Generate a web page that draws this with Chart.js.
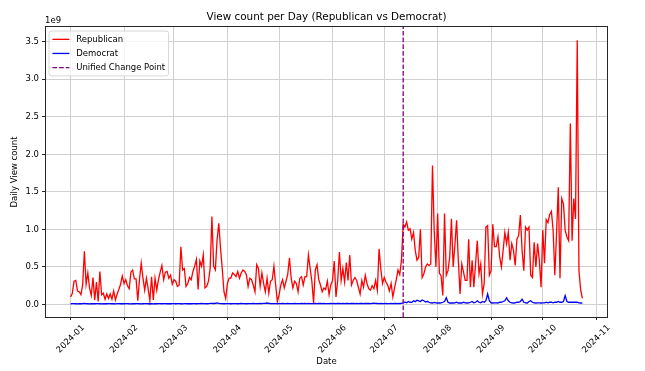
<!DOCTYPE html>
<html>
<head>
<meta charset="utf-8">
<script src="https://cdn.jsdelivr.net/npm/chart.js@4.4.0/dist/chart.umd.min.js"></script>
<style>
  html, body { margin: 0; padding: 0; background: #fff; }
  canvas { display: block; }
</style>
</head>
<body>
<canvas id="graficoVistas" width="645" height="371"></canvas>
<script>
// Vistas diarias (en 1e9), un valor por dia desde 2024-01-01 hasta 2024-10-24
const republican = [
  // ene
  0.10, 0.15, 0.31, 0.32, 0.18, 0.17, 0.13, 0.26, 0.71, 0.27, 0.42, 0.22, 0.12, 0.36, 0.06, 0.30, 0.04, 0.44, 0.13, 0.15, 0.07, 0.14, 0.08, 0.14, 0.07, 0.18, 0.06, 0.14, 0.20, 0.27, 0.38,
  // feb
  0.28, 0.33, 0.25, 0.21, 0.43, 0.46, 0.34, 0.34, 0.05, 0.34, 0.55, 0.35, 0.19, 0.35, 0.21, 0.05, 0.37, 0.06, 0.35, 0.19, 0.33, 0.43, 0.52, 0.33, 0.43, 0.44, 0.35, 0.39, 0.27,
  // mar
  0.33, 0.31, 0.24, 0.26, 0.77, 0.46, 0.48, 0.24, 0.28, 0.36, 0.33, 0.44, 0.51, 0.60, 0.20, 0.58, 0.51, 0.66, 0.22, 0.24, 0.31, 0.48, 1.17, 0.51, 0.46, 0.86, 1.08, 0.75, 0.48, 0.17, 0.08,
  // abr
  0.28, 0.35, 0.35, 0.42, 0.40, 0.37, 0.44, 0.35, 0.42, 0.46, 0.44, 0.40, 0.24, 0.35, 0.33, 0.26, 0.17, 0.53, 0.48, 0.24, 0.42, 0.28, 0.17, 0.35, 0.15, 0.31, 0.33, 0.51, 0.26, 0.04,
  // may
  0.13, 0.26, 0.33, 0.22, 0.31, 0.40, 0.62, 0.35, 0.22, 0.31, 0.28, 0.17, 0.35, 0.37, 0.26, 0.37, 0.37, 0.66, 0.48, 0.31, 0.02, 0.46, 0.53, 0.33, 0.26, 0.17, 0.22, 0.20, 0.31, 0.13, 0.26,
  // jun
  0.32, 0.58, 0.10, 0.32, 0.70, 0.32, 0.48, 0.30, 0.56, 0.32, 0.66, 0.26, 0.32, 0.36, 0.32, 0.23, 0.14, 0.32, 0.23, 0.39, 0.28, 0.21, 0.19, 0.25, 0.21, 0.32, 0.19, 0.74, 0.48, 0.28,
  // jul
  0.36, 0.30, 0.26, 0.18, 0.28, 0.10, 0.22, 0.33, 0.46, 0.40, 0.59, 1.07, 1.03, 1.10, 0.99, 1.01, 0.87, 0.96, 0.72, 0.59, 0.63, 1.00, 0.36, 0.41, 0.50, 0.54, 0.52, 0.54, 1.85, 0.99, 0.50,
  // ago
  1.21, 0.42, 0.38, 0.12, 1.21, 0.39, 0.45, 0.63, 1.14, 0.50, 0.79, 1.12, 0.59, 0.14, 0.54, 0.43, 0.32, 0.32, 0.87, 0.23, 0.59, 0.23, 0.54, 0.85, 0.41, 0.54, 0.14, 0.28, 1.03, 1.05, 0.39,
  // sep
  0.45, 1.07, 0.77, 0.77, 0.90, 0.63, 0.50, 0.72, 0.96, 0.81, 0.96, 0.59, 0.81, 0.72, 0.52, 0.87, 0.92, 1.19, 0.72, 0.45, 1.03, 0.99, 1.03, 0.39, 0.36, 0.83, 0.50, 0.81, 0.59, 0.23,
  // oct
  0.99, 0.55, 1.13, 1.09, 1.20, 1.24, 0.99, 0.39, 0.95, 1.56, 0.35, 1.41, 1.34, 0.99, 0.90, 0.85, 2.41, 0.85, 1.41, 1.14, 3.52, 0.45, 0.19, 0.08
];

const democrat = [
  // ene
  0.010, 0.012, 0.011, 0.010, 0.009, 0.011, 0.010, 0.012, 0.013, 0.011, 0.010, 0.009, 0.010, 0.011, 0.010, 0.012, 0.011, 0.010, 0.009, 0.010, 0.011, 0.010, 0.012, 0.011, 0.010, 0.010, 0.009, 0.011, 0.012, 0.010, 0.011,
  // feb
  0.010, 0.011, 0.012, 0.010, 0.009, 0.011, 0.010, 0.012, 0.011, 0.010, 0.009, 0.010, 0.011, 0.012, 0.010, 0.011, 0.010, 0.009, 0.011, 0.010, 0.012, 0.011, 0.010, 0.011, 0.012, 0.010, 0.011, 0.010, 0.012,
  // mar
  0.011, 0.010, 0.012, 0.011, 0.010, 0.009, 0.011, 0.012, 0.010, 0.011, 0.010, 0.012, 0.011, 0.010, 0.012, 0.011, 0.013, 0.012, 0.011, 0.010, 0.012, 0.014, 0.016, 0.013, 0.015, 0.020, 0.014, 0.012, 0.011, 0.010, 0.011,
  // abr
  0.011, 0.012, 0.010, 0.011, 0.012, 0.011, 0.010, 0.012, 0.013, 0.011, 0.012, 0.010, 0.011, 0.012, 0.011, 0.013, 0.012, 0.011, 0.012, 0.013, 0.012, 0.014, 0.016, 0.020, 0.015, 0.013, 0.012, 0.011, 0.012, 0.011,
  // may
  0.012, 0.011, 0.013, 0.012, 0.011, 0.013, 0.012, 0.011, 0.012, 0.013, 0.012, 0.011, 0.012, 0.013, 0.012, 0.014, 0.012, 0.013, 0.012, 0.011, 0.012, 0.013, 0.012, 0.014, 0.013, 0.012, 0.013, 0.012, 0.011, 0.012, 0.013,
  // jun
  0.012, 0.013, 0.012, 0.014, 0.013, 0.012, 0.013, 0.012, 0.014, 0.013, 0.012, 0.013, 0.014, 0.012, 0.013, 0.012, 0.014, 0.013, 0.012, 0.013, 0.014, 0.013, 0.012, 0.015, 0.018, 0.014, 0.013, 0.012, 0.013, 0.012,
  // jul
  0.012, 0.013, 0.012, 0.011, 0.013, 0.012, 0.014, 0.013, 0.012, 0.013, 0.014, 0.020, 0.032, 0.022, 0.040, 0.030, 0.028, 0.050, 0.038, 0.058, 0.048, 0.040, 0.060, 0.050, 0.032, 0.042, 0.030, 0.022, 0.020, 0.028, 0.022,
  // ago
  0.020, 0.020, 0.022, 0.030, 0.040, 0.090, 0.030, 0.020, 0.022, 0.020, 0.021, 0.030, 0.020, 0.022, 0.020, 0.030, 0.022, 0.020, 0.021, 0.030, 0.040, 0.022, 0.030, 0.050, 0.030, 0.022, 0.040, 0.030, 0.050, 0.140, 0.050,
  // sep
  0.022, 0.020, 0.021, 0.022, 0.020, 0.030, 0.030, 0.040, 0.050, 0.090, 0.050, 0.030, 0.022, 0.020, 0.021, 0.030, 0.030, 0.040, 0.070, 0.030, 0.022, 0.020, 0.040, 0.050, 0.030, 0.022, 0.020, 0.021, 0.022, 0.020,
  // oct
  0.022, 0.021, 0.030, 0.022, 0.030, 0.030, 0.022, 0.030, 0.030, 0.040, 0.030, 0.030, 0.040, 0.120, 0.040, 0.030, 0.030, 0.030, 0.030, 0.030, 0.030, 0.022, 0.020, 0.018
];

const monthLabels = ["2024-01", "2024-02", "2024-03", "2024-04", "2024-05", "2024-06", "2024-07", "2024-08", "2024-09", "2024-10", "2024-11"];
const yTicks = [0, 0.5, 1, 1.5, 2, 2.5, 3, 3.5];
const changePointDate = "2024-07-12";

const titulo = "View count per Day (Republican vs Democrat)";
const fuente = "'DejaVu Sans', sans-serif";
const tam = 8.5;

// dias desde el 1 de enero
const DIA = 86400000;
const inicio = Date.UTC(2024, 0, 1);
function diaDe(texto) {
    const [a, m, d] = texto.split("-").map(Number);
    return (Date.UTC(a, m - 1, d || 1) - inicio) / DIA;
}
const monthDays = monthLabels.map(diaDe);
const changeDay = diaDe(changePointDate);

// margenes de 5% como matplotlib
const n = republican.length;
const xMin = -(n - 1) * 0.05;
const xMax = (n - 1) * 1.05;
const maxDato = Math.max(...republican, ...democrat);
const minDato = Math.min(...republican, ...democrat);
const yMin = minDato - (maxDato - minDato) * 0.05;
const yMax = maxDato + (maxDato - minDato) * 0.05;

const decoracion = {
    id: "decoracion",
    afterDraw(chart) {
        const { ctx, chartArea: a, scales } = chart;
        ctx.save();

        // marco
        ctx.strokeStyle = "#262626";
        ctx.lineWidth = 1;
        ctx.strokeRect(Math.round(a.left) + 0.5, Math.round(a.top) - 0.5, Math.round(a.right - a.left) - 1, Math.round(a.bottom - a.top) + 1);

        ctx.fillStyle = "#000";

        // titulo
        ctx.font = "10.4px " + fuente;
        ctx.textAlign = "center";
        ctx.textBaseline = "alphabetic";
        ctx.fillText(titulo, (a.left + a.right) / 2, a.top - 7);

        // multiplicador
        ctx.font = tam + "px " + fuente;
        ctx.textAlign = "left";
        ctx.fillText("1e9", a.left, a.top - 4);

        // etiquetas del eje x, rotadas 45 y centradas en la marca
        monthDays.forEach((d, i) => {
            const x = scales.x.getPixelForValue(d);
            const w = ctx.measureText(monthLabels[i]).width;
            const h = tam * 1.16;
            const caja = (w + h) / Math.SQRT2;
            ctx.save();
            ctx.translate(x, a.bottom + 6 + caja / 2);
            ctx.rotate(-Math.PI / 4);
            ctx.textAlign = "center";
            ctx.textBaseline = "middle";
            ctx.fillText(monthLabels[i], 0, 0);
            ctx.restore();
        });

        // titulos de ejes
        ctx.textAlign = "center";
        ctx.textBaseline = "middle";
        ctx.fillText("Date", (a.left + a.right) / 2, 362);
        ctx.save();
        ctx.translate(15, (a.top + a.bottom) / 2);
        ctx.rotate(-Math.PI / 2);
        ctx.fillText("Daily View count", 0, 0);
        ctx.restore();

        // leyenda
        const ds = chart.data.datasets;
        const lx = a.left + 4, ly = a.top + 4;
        const fila = tam * 1.16, sep = tam * 0.5, pad = tam * 0.4;
        const largo = tam * 2, hueco = tam * 0.8;
        let anchoTexto = 0;
        ds.forEach(d => { anchoTexto = Math.max(anchoTexto, ctx.measureText(d.label).width); });
        const ancho = pad * 2 + largo + hueco + anchoTexto;
        const alto = pad * 2 + fila * ds.length + sep * (ds.length - 1);
        const r = 2.5;
        ctx.beginPath();
        ctx.moveTo(lx + r, ly);
        ctx.arcTo(lx + ancho, ly, lx + ancho, ly + alto, r);
        ctx.arcTo(lx + ancho, ly + alto, lx, ly + alto, r);
        ctx.arcTo(lx, ly + alto, lx, ly, r);
        ctx.arcTo(lx, ly, lx + ancho, ly, r);
        ctx.closePath();
        ctx.fillStyle = "rgba(255,255,255,0.8)";
        ctx.fill();
        ctx.strokeStyle = "#cccccc";
        ctx.lineWidth = 0.8;
        ctx.stroke();

        ds.forEach((d, i) => {
            const yc = ly + pad + fila / 2 + i * (fila + sep);
            ctx.beginPath();
            ctx.setLineDash(d.borderDash || []);
            ctx.strokeStyle = d.borderColor;
            ctx.lineWidth = d.borderWidth;
            ctx.moveTo(lx + pad, yc);
            ctx.lineTo(lx + pad + largo, yc);
            ctx.stroke();
            ctx.setLineDash([]);
            ctx.fillStyle = "#000";
            ctx.textAlign = "left";
            ctx.textBaseline = "middle";
            ctx.fillText(d.label, lx + pad + largo + hueco, yc);
        });

        ctx.restore();
    }
};

const ctx = document.getElementById("graficoVistas");

new Chart(ctx, {
    type: "line",
    data: {
        datasets: [
            {
                label: "Republican",
                data: republican.map((v, i) => ({ x: i, y: v })),
                borderColor: "#ff0000",
                borderWidth: 1.3,
                pointRadius: 0,
                order: 3
            },
            {
                label: "Democrat",
                data: democrat.map((v, i) => ({ x: i, y: v })),
                borderColor: "#0000ff",
                borderWidth: 1.3,
                pointRadius: 0,
                order: 2
            },
            {
                label: "Unified Change Point",
                data: [{ x: changeDay, y: yMin }, { x: changeDay, y: yMax }],
                borderColor: "#800080",
                borderWidth: 1.3,
                borderDash: [4.7, 2],
                pointRadius: 0,
                order: 1
            }
        ]
    },
    options: {
        responsive: false,
        animation: false,
        devicePixelRatio: 1,
        layout: { padding: { left: 0, right: 37, top: 27, bottom: 0 }, autoPadding: false },
        plugins: {
            legend: { display: false },
            tooltip: { enabled: false }
        },
        scales: {
            x: {
                type: "linear",
                min: xMin,
                max: xMax,
                afterBuildTicks: s => { s.ticks = monthDays.map(v => ({ value: v })); },
                afterFit: s => { s.height = 54; },
                ticks: { display: false },
                grid: { color: "#d0d0d0", lineWidth: 1, tickColor: "#262626", tickLength: 3, tickWidth: 1 },
                border: { display: false }
            },
            y: {
                type: "linear",
                min: yMin,
                max: yMax,
                afterBuildTicks: s => { s.ticks = yTicks.map(v => ({ value: v })); },
                afterFit: s => { s.width = 45; },
                ticks: {
                    color: "#000",
                    padding: 3,
                    font: { family: "DejaVu Sans", size: tam },
                    callback: v => v.toFixed(1)
                },
                grid: { color: "#d0d0d0", lineWidth: 1, tickColor: "#262626", tickLength: 3, tickWidth: 1 },
                border: { display: false }
            }
        }
    },
    plugins: [decoracion]
});
</script>
</body>
</html>
